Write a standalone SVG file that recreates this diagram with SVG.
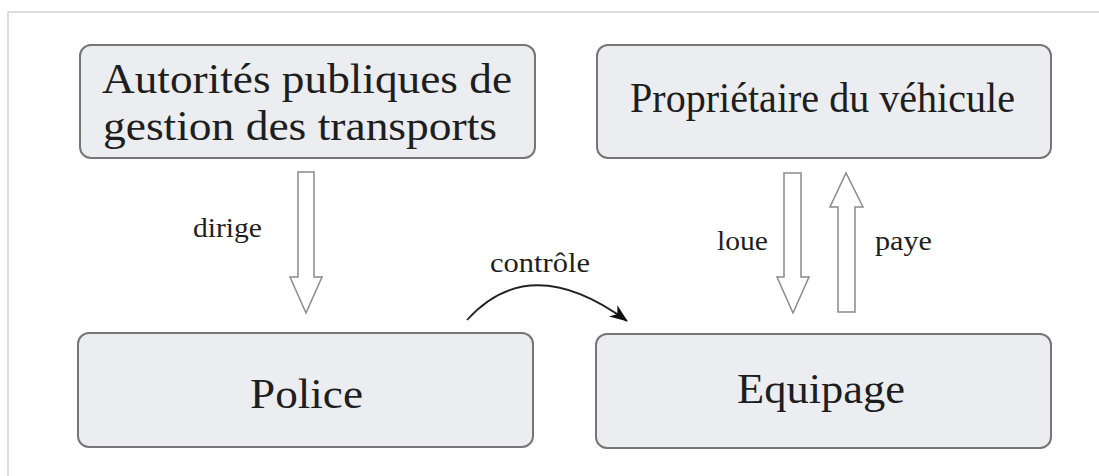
<svg xmlns="http://www.w3.org/2000/svg" width="1099" height="476" viewBox="0 0 1099 476">
<style>
.box{fill:#ebedf0;stroke:#767676;stroke-width:2}
.t{font-family:"Liberation Serif","DejaVu Serif",serif;fill:#1e1e1e}
.big{font-size:42px}
.lbl{font-size:27px}
.ha{fill:#ffffff;stroke:#8a8a8a;stroke-width:1.5;stroke-linejoin:miter}
.frame{stroke:#d4d4d4;stroke-width:1.5;fill:none}
</style>
<defs>
<marker id="ah" markerWidth="18" markerHeight="14" refX="17" refY="7" orient="auto" markerUnits="userSpaceOnUse">
<path d="M0,0 L18,7 L0,14 L5,7 Z" fill="#111"/>
</marker>
</defs>
<rect width="1099" height="476" fill="#ffffff"/>
<path class="frame" d="M8,476 V12 H1099"/>
<g id="autorites">
<rect class="box" x="80" y="45" width="455" height="113" rx="11"/>
<text class="t big" x="102" y="93" textLength="410" lengthAdjust="spacingAndGlyphs">Autorités publiques de</text>
<text class="t big" x="103" y="140" textLength="394" lengthAdjust="spacingAndGlyphs">gestion des transports</text>
</g>
<g id="proprietaire">
<rect class="box" x="597" y="45" width="454" height="113" rx="11"/>
<text class="t" font-size="43" x="630" y="112" textLength="385" lengthAdjust="spacingAndGlyphs">Propriétaire du véhicule</text>
</g>
<g id="police">
<rect class="box" x="78" y="333" width="455" height="114" rx="11"/>
<text class="t" font-size="42" x="250" y="408" textLength="113" lengthAdjust="spacingAndGlyphs">Police</text>
</g>
<g id="equipage">
<rect class="box" x="596" y="334" width="455" height="114" rx="11"/>
<text class="t" font-size="42" x="737" y="403" textLength="168" lengthAdjust="spacingAndGlyphs">Equipage</text>
</g>
<g id="connectors">
<path class="ha" d="M298,172 H314 V277 H322 L306,313 L290,277 H298 Z"/>
<path class="ha" d="M784,173 H801 V277 H809 L793,313 L777,277 H784 Z"/>
<path class="ha" d="M838,312 V207 H830 L846,173 L863,207 H855 V312 Z"/>
<path d="M467,320 Q530,250 627,321" fill="none" stroke="#222" stroke-width="1.8" marker-end="url(#ah)"/>
<text class="t lbl" x="193" y="237" textLength="69" lengthAdjust="spacingAndGlyphs">dirige</text>
<text class="t lbl" x="717" y="250" textLength="51" lengthAdjust="spacingAndGlyphs">loue</text>
<text class="t lbl" x="875" y="250" textLength="57" lengthAdjust="spacingAndGlyphs">paye</text>
<text class="t lbl" x="490" y="272" textLength="100" lengthAdjust="spacingAndGlyphs">contrôle</text>
</g>
</svg>
